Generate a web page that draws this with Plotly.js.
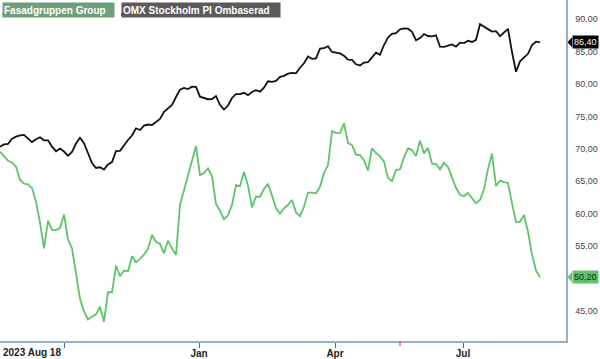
<!DOCTYPE html>
<html>
<head>
<meta charset="utf-8">
<script src="https://cdn.plot.ly/plotly-3.0.1.min.js"></script>
<style>html,body{margin:0;padding:0;background:#fff;}#chart{width:600px;height:359px;}</style>
</head>
<body>
<div id="chart"></div>
<script>
// Series names
const seriesNames = ['Fasadgruppen Group', 'OMX Stockholm PI Ombaserad'];

// OMX Stockholm PI (rebased), sampled about every second trading day from 2023 Aug 18
const omx = [70.32,70.67,70.75,71.57,71.88,72.08,72.14,71.51,71.04,71.46,71.77,71.32,71.31,70.32,69.63,70.03,69.58,68.92,69.52,70.81,
71.69,70.86,69.32,67.81,67.04,67.15,66.81,67.58,67.96,69.63,69.69,70.58,71.35,72.05,73.16,72.89,73.57,73.74,73.66,74.13,
74.59,75.71,76.28,76.76,77.98,79.12,79.37,79.21,79.57,79.55,78.03,77.79,77.64,77.67,78.13,76.78,76.05,76.67,77.83,78.44,
78.44,78.63,78.26,78.75,79.04,78.80,79.41,80.40,80.32,80.45,81.08,81.25,81.59,81.71,81.62,82.49,83.17,84.22,83.87,83.94,
85.45,85.50,85.82,84.93,84.79,84.70,84.34,83.74,83.71,83.02,82.85,83.28,83.37,84.13,84.81,84.48,85.99,87.16,87.72,87.83,
88.41,88.57,88.51,88.03,86.73,87.07,87.69,87.38,87.32,87.49,85.73,85.70,85.84,86.09,85.75,86.35,86.29,86.64,86.46,86.79,
89.20,88.75,88.44,88.06,88.12,87.36,87.89,88.47,84.91,81.88,83.48,84.00,84.64,85.99,86.50,86.40];

// Fasadgruppen Group (SEK), same sampling
const fasad = [69.55,68.92,68.15,67.90,67.24,65.23,64.63,64.53,63.94,61.84,58.64,54.66,58.92,57.50,57.48,57.79,59.86,56.02,54.66,50.83,
46.88,44.94,43.69,44.17,44.48,45.66,43.35,47.93,47.88,52.00,50.35,51.23,51.12,53.43,52.49,53.04,53.69,54.60,56.73,55.68,
55.33,53.89,55.86,54.63,53.63,61.34,63.65,66.21,68.15,70.43,65.96,66.27,66.98,65.77,61.49,60.46,59.13,59.75,61.35,64.42,
64.26,66.42,64.33,60.97,62.63,62.61,63.80,64.59,62.82,60.83,60.01,60.83,61.37,62.11,60.18,59.61,61.07,63.25,63.26,63.14,
64.14,66.30,67.45,72.74,72.43,72.45,73.93,70.89,70.58,69.10,69.04,68.26,66.64,70.09,69.35,68.83,68.01,65.50,65.02,66.73,
66.84,68.69,70.07,69.83,68.89,71.24,69.29,70.12,67.70,67.65,66.84,67.85,67.21,65.53,63.99,62.91,62.68,63.18,62.35,61.60,
62.11,63.72,66.91,69.27,64.26,65.10,64.86,64.73,61.61,58.73,58.78,59.79,57.22,53.71,51.27,50.20];

// X axis labels (positions in sample units)
const startLabel = '2023 Aug 18';
const tickPos = [16, 49.75, 83.75, 115.75];
const tickLabels = ['', 'Jan', 'Apr', 'Jul'];
const markerPos = [100];

// Y axis ticks
const yTicks = [45, 50, 55, 60, 65, 70, 75, 80, 85, 90];

const idx = omx.map((_, i) => i);
const FONT = 'Liberation Sans, Arial, sans-serif';
const GREEN = '#5cc46c';
const AXIS = '#93b1ca';

const traces = [
  {x: idx, y: fasad, type: 'scatter', mode: 'lines', name: seriesNames[0],
   line: {color: GREEN, width: 1.8}, hoverinfo: 'skip'},
  {x: idx, y: omx, type: 'scatter', mode: 'lines', name: seriesNames[1],
   line: {color: '#111111', width: 1.8}, hoverinfo: 'skip'}
];

const plotH = 341, plotW = 566;
const yr = [40.38, 92.93];
const pxPerUnit = plotH / (yr[1] - yr[0]);
const lastF = fasad[fasad.length - 1];
const lastO = omx[omx.length - 1];
const fmt = v => v.toFixed(2).replace('.', ',');
// tick labels hidden where a value tag covers them
const yTickText = yTicks.map(t => (Math.abs(t - lastF) < 1 ? '' : fmt(t)));

function tagArrow(v, color) {
  const x0 = 1 + 1.5 / plotW, x1 = 1 + 6 / plotW;
  const h = 5 / pxPerUnit;
  return {type: 'path', xref: 'paper', yref: 'y', layer: 'above',
    path: `M ${x0},${v} L ${x1},${v + h} L ${x1},${v - h} Z`,
    fillcolor: color, line: {width: 0}};
}

const shapes = [
  tagArrow(lastO, '#000000'),
  tagArrow(lastF, GREEN),
  // legend underlines
  {type: 'line', xref: 'paper', yref: 'paper', x0: 2 / plotW, x1: 113 / plotW,
   y0: 1 - 14 / plotH, y1: 1 - 14 / plotH, line: {color: GREEN, width: 2}},
  {type: 'line', xref: 'paper', yref: 'paper', x0: 121 / plotW, x1: 279 / plotW,
   y0: 1 - 14.5 / plotH, y1: 1 - 14.5 / plotH, line: {color: '#000', width: 2}}
];
markerPos.forEach(p => shapes.push({type: 'line', xref: 'x', yref: 'paper', x0: p, x1: p,
  y0: 0, y1: -5 / plotH, line: {color: '#ff5a5a', width: 1.5}}));

const annotations = [
  {text: seriesNames[0], xref: 'paper', yref: 'paper', x: 2 / plotW, y: 1 - 1.5 / plotH,
   xanchor: 'left', yanchor: 'top', showarrow: false, align: 'left',
   width: 109, height: 12, borderpad: 1, bgcolor: '#6f9f7a',
   font: {family: FONT, size: 10, color: '#ffffff', weight: 'bold'}},
  {text: seriesNames[1], xref: 'paper', yref: 'paper', x: 121 / plotW, y: 1 - 1.5 / plotH,
   xanchor: 'left', yanchor: 'top', showarrow: false, align: 'left',
   width: 156, height: 12, borderpad: 1, bgcolor: '#5b5b5b',
   font: {family: FONT, size: 10, color: '#ffffff', weight: 'bold'}},
  {text: startLabel, xref: 'paper', yref: 'paper', x: 0.5 / plotW, y: -11.5 / plotH,
   xanchor: 'left', yanchor: 'middle', showarrow: false,
   font: {family: FONT, size: 10, color: '#222', weight: 'bold'}},
  {text: fmt(lastO), xref: 'paper', yref: 'y', x: 1 + 5.5 / plotW, y: lastO,
   xanchor: 'left', yanchor: 'middle', showarrow: false, bgcolor: '#000000', borderpad: 1,
   font: {family: FONT, size: 9, color: '#ffffff'}},
  {text: fmt(lastF), xref: 'paper', yref: 'y', x: 1 + 5.5 / plotW, y: lastF,
   xanchor: 'left', yanchor: 'middle', showarrow: false, bgcolor: GREEN, borderpad: 1,
   font: {family: FONT, size: 9, color: '#102a14'}}
];

const layout = {
  width: 600, height: 359,
  margin: {l: 0, r: 34, t: 0, b: 18, pad: 0},
  paper_bgcolor: '#ffffff', plot_bgcolor: '#ffffff',
  showlegend: false,
  separators: ',.',
  xaxis: {
    range: [0, plotW / 4], showgrid: false, zeroline: false,
    showline: true, linecolor: AXIS, linewidth: 1.5,
    tickmode: 'array', tickvals: tickPos, ticktext: tickLabels,
    ticks: 'outside', ticklen: 5, tickcolor: '#3d6f9c', tickwidth: 1,
    ticklabelstandoff: -3,
    tickfont: {family: FONT, size: 10, color: '#222', weight: 'bold'},
    fixedrange: true
  },
  yaxis: {
    side: 'right', range: yr, showgrid: false, zeroline: false,
    showline: true, linecolor: AXIS, linewidth: 1.5,
    tickmode: 'array', tickvals: yTicks, ticktext: yTickText,
    ticks: '', ticklabelstandoff: 6,
    tickfont: {family: FONT, size: 9, color: '#444'},
    fixedrange: true
  },
  shapes: shapes,
  annotations: annotations
};

Plotly.newPlot('chart', traces, layout, {staticPlot: true, displayModeBar: false});
</script>
</body>
</html>
